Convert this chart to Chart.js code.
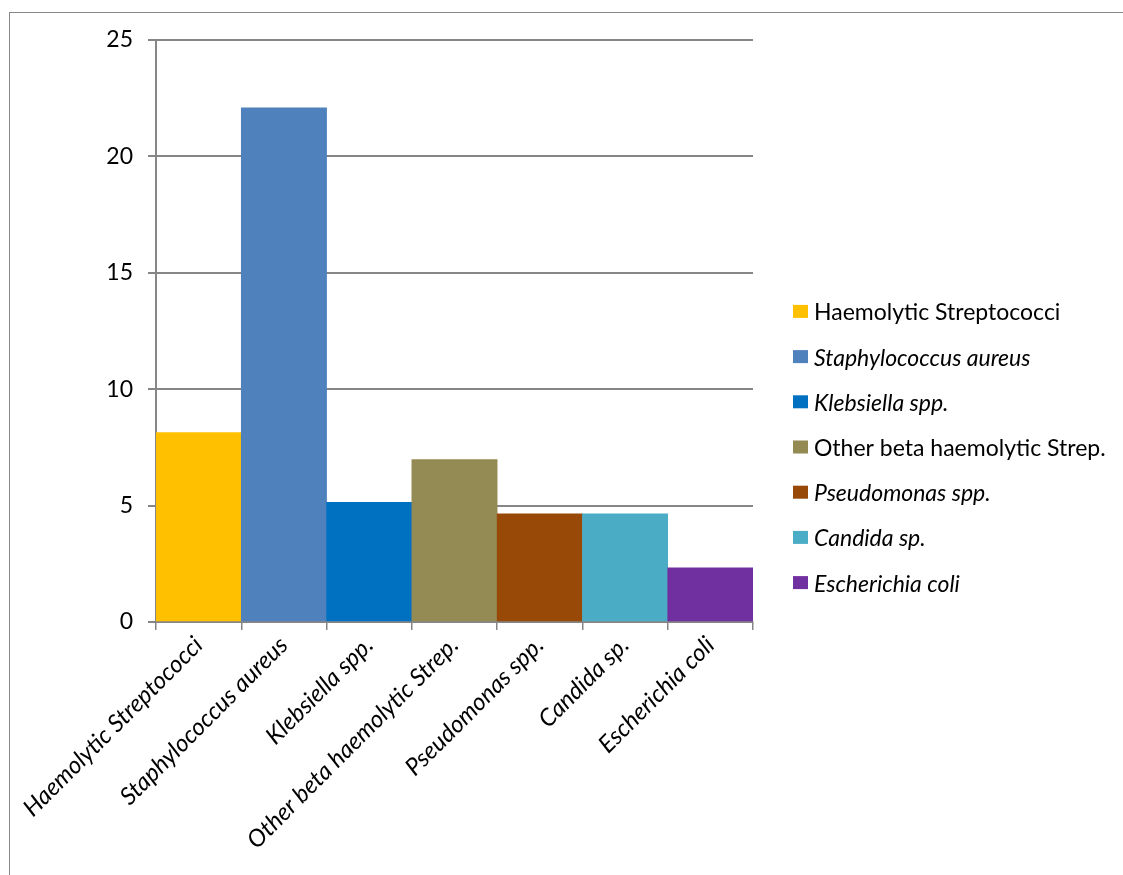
<!DOCTYPE html>
<html>
<head>
<meta charset="utf-8">
<script src="https://cdn.jsdelivr.net/npm/chart.js@4"></script>
<style>
    html, body { margin: 0; padding: 0; background: #fff; overflow: hidden; }
    #wrap { position: relative; width: 1123px; height: 875px; }
    #frame {
        position: absolute; left: 9px; top: 12px; width: 1200px; height: 1000px;
        border-left: 1.5px solid #888; border-top: 1.5px solid #888;
    }
    #chart { position: absolute; left: 0; top: 0; }
</style>
</head>
<body>
<div id="wrap">
    <div id="frame"></div>
    <canvas id="chart" width="1123" height="875"></canvas>
</div>
<script>
// Organisms isolated (%)
const organisms = [
    "Haemolytic Streptococci",
    "Staphylococcus aureus",
    "Klebsiella spp.",
    "Other beta haemolytic Strep.",
    "Pseudomonas spp.",
    "Candida sp.",
    "Escherichia coli"
];
const percentages = [8.14, 22.09, 5.14, 6.98, 4.65, 4.65, 2.33];
const barColors = ["#FFC000", "#4F81BD", "#0070C0", "#948A54", "#984807", "#4BACC6", "#7030A0"];
// legend entries that are not set in italics
const uprightLegend = [true, false, false, true, false, false, false];
const yTicks = [0, 5, 10, 15, 20, 25];

const FONT = "Lato, 'Open Sans', sans-serif";
const GRID = "#868686";

// draws the per-organism legend on the right
const sideLegend = {
    id: "sideLegend",
    afterDraw(chart) {
        const ctx = chart.ctx;
        const area = chart.chartArea;
        const rowGap = 45.2;
        const firstY = chart.height / 2 - rowGap * (organisms.length - 1) / 2 + 10;
        ctx.save();
        ctx.textBaseline = "middle";
        ctx.textAlign = "left";
        organisms.forEach((name, i) => {
            const y = firstY + i * rowGap;
            ctx.fillStyle = barColors[i];
            ctx.fillRect(area.right + 40, y - 7, 15, 13);
            ctx.fillStyle = "#000";
            ctx.font = (uprightLegend[i] ? "" : "italic ") + "23px " + FONT;
            ctx.fillText(name, area.right + 61, y + 1);
        });
        ctx.restore();
    }
};

const ctx = document.getElementById("chart").getContext("2d");
new Chart(ctx, {
    type: "bar",
    data: {
        labels: organisms,
        datasets: [{
            data: percentages,
            backgroundColor: barColors,
            borderWidth: 0,
            categoryPercentage: 1.0,
            barPercentage: 1.0
        }]
    },
    options: {
        responsive: false,
        animation: false,
        devicePixelRatio: 1,
        layout: { padding: { top: 40, right: 370, left: 0, bottom: 0 } },
        plugins: {
            legend: { display: false },
            tooltip: { enabled: false }
        },
        scales: {
            x: {
                grid: {
                    drawOnChartArea: false,
                    drawTicks: true,
                    tickLength: 8,
                    color: GRID,
                    lineWidth: 1.5
                },
                border: { color: GRID, width: 2 },
                ticks: {
                    color: "#000",
                    font: { family: FONT, size: 24, style: "italic" },
                    minRotation: 45,
                    maxRotation: 45,
                    padding: 1
                },
                afterFit(scale) { scale.height = 253; }
            },
            y: {
                min: 0,
                max: 25,
                afterBuildTicks(scale) {
                    scale.ticks = yTicks.map(v => ({ value: v }));
                },
                grid: {
                    color: GRID,
                    lineWidth: 2,
                    tickLength: 8
                },
                border: { color: GRID, width: 2 },
                ticks: {
                    color: "#000",
                    font: { family: FONT, size: 23 },
                    padding: 15
                },
                afterFit(scale) { scale.width = 156; }
            }
        }
    },
    plugins: [sideLegend]
});
</script>
</body>
</html>
